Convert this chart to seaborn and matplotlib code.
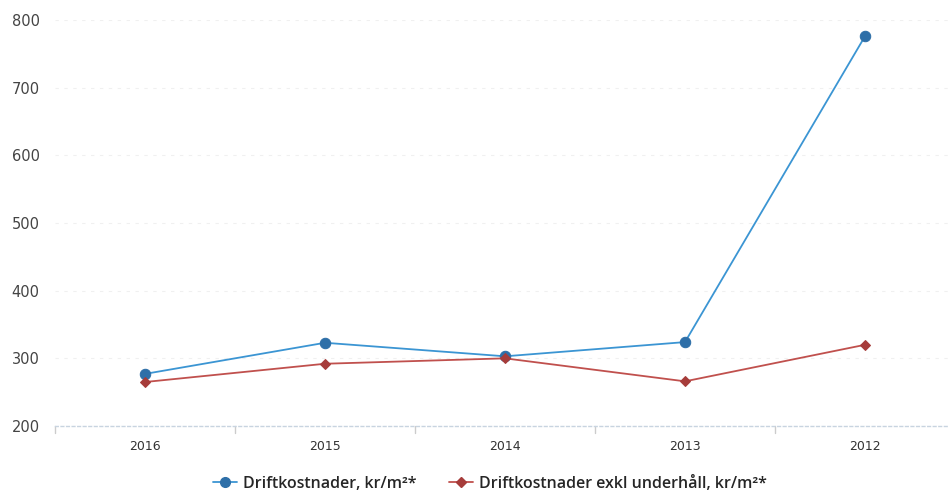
import pandas as pd
import numpy as np
import matplotlib
matplotlib.use('Agg')
import matplotlib.pyplot as plt
import seaborn as sns

# DATA

years = ['2016', '2015', '2014', '2013', '2012']
drift = [277, 323, 303, 324, 776]
drift_exkl = [265, 292, 300, 266, 320]
series_names = ['Driftkostnader, kr/m²*', 'Driftkostnader exkl underhåll, kr/m²*']

df = pd.DataFrame({
    'Year': years * 2,
    'Value': drift + drift_exkl,
    'Series': [series_names[0]] * len(years) + [series_names[1]] * len(years),
})

sns.set_style('white')
plt.rcParams['font.family'] = ['DejaVu Sans']

fig = plt.figure(figsize=(9.49, 4.91), dpi=100)
ax = fig.add_axes([55 / 949, 65 / 491, 900 / 949, 406 / 491])

palette = {series_names[0]: '#3b95d3', series_names[1]: '#c0504d'}
markers = {series_names[0]: 'o', series_names[1]: 'D'}
sns.lineplot(data=df, x='Year', y='Value', hue='Series', style='Series',
             palette=palette, markers=markers, dashes=False, linewidth=1.3,
             markersize=7, ax=ax, legend=False, clip_on=False)

# darker marker faces like the original
for line, mc, ms in zip(ax.lines, ['#2e6fa8', '#a63c3a'], [7.5, 5]):
    line.set_markerfacecolor(mc)
    line.set_markeredgecolor(mc)
    line.set_markersize(ms)

ax.set_xlim(-0.5, 4.5)
ax.set_ylim(200, 800)
ax.set_yticks([200, 300, 400, 500, 600, 700, 800])
ax.set_xlabel('')
ax.set_ylabel('')

for s in ['top', 'right', 'left']:
    ax.spines[s].set_visible(False)
ax.spines['bottom'].set_color('#c8d4e0')
ax.spines['bottom'].set_linestyle((0, (2, 2)))
ax.spines['bottom'].set_linewidth(1)

ax.yaxis.grid(True, color='#f0f0f0', linestyle=(0, (3, 5)), linewidth=0.8)
ax.set_axisbelow(True)

ax.tick_params(axis='y', length=0, labelsize=10.5, labelcolor='#444444', pad=11)
ax.tick_params(axis='x', length=0, labelsize=9, labelcolor='#333333', pad=10)

# tick marks between the categories
for b in np.arange(-0.5, 4.5, 1):
    ax.plot([b, b], [200, 190], color='#cccccc', linewidth=1, clip_on=False)

handles = [
    plt.Line2D([], [], color='#3b95d3', marker='o', markerfacecolor='#2e6fa8',
               markeredgecolor='#2e6fa8', markersize=7, linewidth=1.3),
    plt.Line2D([], [], color='#c0504d', marker='D', markerfacecolor='#a63c3a',
               markeredgecolor='#a63c3a', markersize=5, linewidth=1.3),
]
fig.legend(handles, series_names, loc='center', bbox_to_anchor=(490 / 949, 1 - 484 / 491),
           ncol=2, frameon=False, handlelength=1.5, handletextpad=0.4, columnspacing=2.0,
           prop={'family': 'Open Sans', 'weight': 'semibold', 'size': 11.5})

fig.savefig('out.png', dpi=100)
